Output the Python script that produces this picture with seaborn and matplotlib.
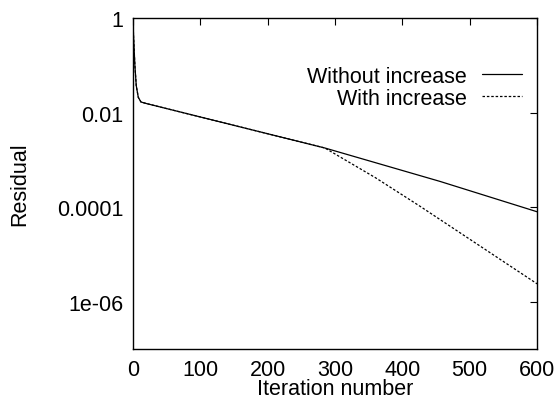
import matplotlib
matplotlib.use("Agg")
import matplotlib.pyplot as plt
import seaborn as sns
import pandas as pd

# Residual history of the solver, with and without the step increase
iter_without = [0, 1, 3, 5, 8, 12, 20, 285, 456, 600]
res_without = [1.0, 0.4, 0.097, 0.037, 0.021, 0.0167, 0.0155, 0.00178,
               0.00035, 0.000080]

iter_with = [0, 1, 3, 5, 8, 12, 20, 285, 360, 426, 600]
res_with = [1.0, 0.4, 0.097, 0.037, 0.021, 0.0167, 0.0155, 0.00178,
            0.00042, 0.000105, 0.0000024]

series_names = ["Without increase", "With increase"]
x_ticks = [0, 100, 200, 300, 400, 500, 600]
y_ticks = [1, 1e-2, 1e-4, 1e-6]
y_tick_labels = ["1", "0.01", "0.0001", "1e-06"]

df = pd.concat([
    pd.DataFrame({"Iteration": iter_without, "Residual": res_without,
                  "Run": series_names[0]}),
    pd.DataFrame({"Iteration": iter_with, "Residual": res_with,
                  "Run": series_names[1]}),
])

sns.set_style("white")
plt.rcParams["font.family"] = ["Liberation Sans", "DejaVu Sans"]
plt.rcParams["text.color"] = "black"
plt.rcParams["axes.labelcolor"] = "black"
plt.rcParams["xtick.color"] = "black"
plt.rcParams["ytick.color"] = "black"
fs = 15.5

fig = plt.figure(figsize=(5.56, 4.02), dpi=100)
ax = fig.add_axes([0.239, 0.129, 0.727, 0.824])

sns.lineplot(data=df, x="Iteration", y="Residual", hue="Run", style="Run",
             hue_order=series_names, style_order=series_names,
             palette=["black", "black"],
             dashes={series_names[0]: "", series_names[1]: (2, 1.5)},
             linewidth=0.9, ax=ax, sort=False, estimator=None)

ax.set_yscale("log")
ax.set_xlim(0, 600)
ax.set_ylim(1e-7, 1)
ax.set_xticks(x_ticks)
ax.set_xticklabels([str(t) for t in x_ticks])
ax.set_yticks(y_ticks)
ax.set_yticklabels(y_tick_labels)
ax.minorticks_off()
ax.tick_params(axis="both", which="major", direction="in", length=5,
               width=0.8, color="black", labelcolor="black", labelsize=fs,
               top=True, right=True, pad=7)
for sp in ax.spines.values():
    sp.set_color("black")
    sp.set_linewidth(1.0)

ax.set_xlabel("Iteration number", fontsize=fs, labelpad=-1, color="black")
ax.set_ylabel("Residual", fontsize=fs, labelpad=19, color="black")

leg = ax.legend(loc="upper right", bbox_to_anchor=(0.985, 0.882), frameon=False,
                markerfirst=False, fontsize=fs, handlelength=1.9,
                handletextpad=0.7, labelspacing=0.05, borderaxespad=0)
for t in leg.get_texts():
    t.set_ha("right")
    t.set_color("black")

fig.savefig("out.png", dpi=100)
